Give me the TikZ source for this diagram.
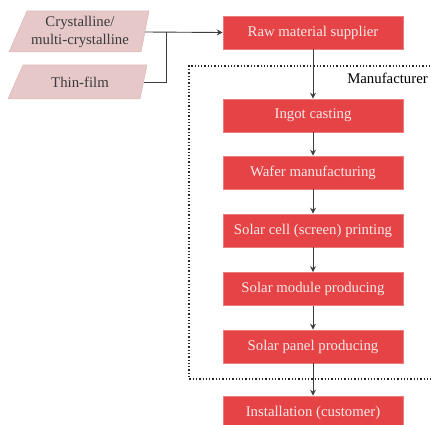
\documentclass[tikz,border=0pt]{standalone}
\usepackage{fontspec}
\setmainfont{Liberation Serif}
\usetikzlibrary{arrows.meta}
\definecolor{stagered}{HTML}{E54345}
\definecolor{stageedge}{HTML}{EC7C7C}
\definecolor{stagetext}{HTML}{F9E8E8}
\definecolor{inputfill}{HTML}{E7C8C8}
\definecolor{inputedge}{HTML}{DDB6B6}
\definecolor{inputtext}{HTML}{3A3A3A}
\definecolor{linkgray}{HTML}{3C3C3C}
\tikzset{
  stagebox/.style={draw=stageedge, line width=0.6pt, fill=stagered, text=stagetext,
    minimum width=180pt, minimum height=33pt, inner sep=0pt,
    font=\fontsize{14.8}{17}\selectfont},
  inputlabel/.style={inner sep=0pt, text=inputtext, align=center,
    font=\fontsize{14.8}{18}\selectfont},
  link/.style={draw=linkgray, line width=0.9pt},
  flow/.style={link, -{Stealth[length=6pt,width=6pt]}},
  groupframe/.style={draw=black!85, line width=1.3pt, dotted}
}
\begin{document}
\begin{tikzpicture}[x=1pt,y=-1pt]
\useasboundingbox (0,0) rectangle (431,425);

% manufacturer group frame (open to the right)
\draw[groupframe] (440,66) -- (189,66) -- (189,379) -- (440,379);
\node[anchor=east, font=\fontsize{14.8}{17}\selectfont, inner sep=0pt] (mfr) at (428,78) {Manufacturer};

% input technologies (parallelograms)
\fill[inputfill, draw=inputedge, line width=0.5pt] (27,11) -- (149,11) -- (141,52) -- (9,52) -- cycle;
\node[inputlabel] (cryst) at (80,31.5) {Crystalline/\\multi-crystalline};
\fill[inputfill, draw=inputedge, line width=0.5pt] (23,65) -- (147,65) -- (140,99) -- (8,99) -- cycle;
\node[inputlabel] (thin) at (80,82) {Thin-film};
\coordinate (crystout) at (145,32);
\coordinate (thinout) at (144,82);
\coordinate (merge) at (166,32);

% process stages
\node[stagebox] (raw)    at (313,32.5)  {Raw material supplier};
\node[stagebox] (ingot)  at (313,115.5) {Ingot casting};
\node[stagebox] (wafer)  at (313,172.5) {Wafer manufacturing};
\node[stagebox] (cell)   at (313,230.5) {Solar cell (screen) printing};
\node[stagebox] (module) at (313,289)   {Solar module producing};
\node[stagebox] (panel)  at (313,346.5) {Solar panel producing};
\node[stagebox] (inst)   at (313,412.5) {Installation (customer)};

% connectors
\draw[flow] (crystout) -- (raw.west);
\draw[link] (thinout) -- (merge |- thinout) -- (merge);
\draw[flow] (raw) -- (ingot);
\draw[flow] (ingot) -- (wafer);
\draw[flow] (wafer) -- (cell);
\draw[flow] (cell) -- (module);
\draw[flow] (module) -- (panel);
\draw[flow] (panel) -- (inst);
\end{tikzpicture}
\end{document}
